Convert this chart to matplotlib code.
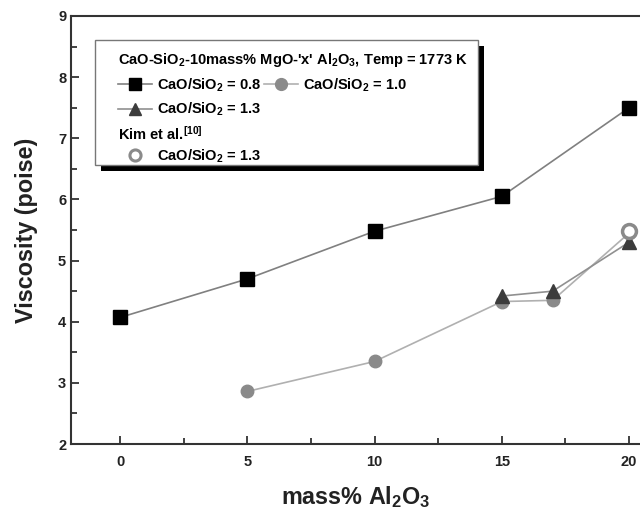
import matplotlib
matplotlib.use("Agg")
import matplotlib.pyplot as plt
from matplotlib.patches import Rectangle
from matplotlib.ticker import MultipleLocator

plt.rcParams["font.family"] = ["Liberation Sans", "DejaVu Sans"]
plt.rcParams["font.weight"] = "bold"
plt.rcParams["mathtext.fontset"] = "custom"
plt.rcParams["mathtext.rm"] = "Liberation Sans:bold"
plt.rcParams["mathtext.it"] = "Liberation Sans:bold:italic"
plt.rcParams["mathtext.bf"] = "Liberation Sans:bold"
plt.rcParams["mathtext.default"] = "rm"

# data
al2o3_08 = [0, 5, 10, 15, 20]
visc_08 = [4.07, 4.70, 5.48, 6.05, 7.50]

al2o3_10 = [5, 10, 15, 17, 20]
visc_10 = [2.86, 3.35, 4.33, 4.35, 5.45]

al2o3_13 = [15, 17, 20]
visc_13 = [4.42, 4.50, 5.30]

kim_al2o3 = [20]
kim_visc = [5.48]

fig = plt.figure(figsize=(6.4, 5.16), dpi=100)
ax = fig.add_axes([0.111, 0.1395, 0.889, 0.8295])

spine_col = "#333333"
l08, = ax.plot(al2o3_08, visc_08, "-", color="#808080", lw=1.2,
               marker="s", ms=9.5, mfc="black", mec="black", zorder=3)
l10, = ax.plot(al2o3_10, visc_10, "-", color="#b0b0b0", lw=1.2,
               marker="o", ms=9, mfc="#8a8a8a", mec="#8a8a8a", zorder=3)
l13, = ax.plot(al2o3_13, visc_13, "-", color="#909090", lw=1.2,
               marker="^", ms=10, mfc="#3c3c3c", mec="#3c3c3c", zorder=4)
lkim, = ax.plot(kim_al2o3, kim_visc, linestyle="none",
                marker="o", ms=10, mfc="white", mec="#8a8a8a", mew=2.5, zorder=5)

ax.set_xlim(-1.925, 20.43)
ax.set_ylim(2, 9)
ax.xaxis.set_major_locator(MultipleLocator(5))
ax.xaxis.set_minor_locator(MultipleLocator(2.5))
ax.yaxis.set_major_locator(MultipleLocator(1))
ax.yaxis.set_minor_locator(MultipleLocator(0.5))
ax.tick_params(which="both", direction="in", colors=spine_col, labelcolor="#222222",
               labelsize=10.5, width=1.3)
ax.tick_params(which="major", length=6)
ax.tick_params(which="minor", length=4)
ax.tick_params(axis="x", pad=8)
for s in ["left", "bottom", "top"]:
    ax.spines[s].set_linewidth(1.5)
    ax.spines[s].set_color(spine_col)
ax.spines["right"].set_visible(False)

ax.set_xlabel("mass% Al$_2$O$_3$", fontsize=16.8, fontweight="bold",
              labelpad=11, color="#222222")
ax.set_ylabel("Viscosity (poise)", fontsize=16.8, fontweight="bold",
              labelpad=14, color="#222222")

# legend box with drop shadow
x0, y0, w, h = 0.042, 0.652, 0.673, 0.292
ax.add_patch(Rectangle((x0 + 0.011, y0 - 0.014), w, h, transform=ax.transAxes,
                       facecolor="black", edgecolor="none", zorder=6))
ax.add_patch(Rectangle((x0, y0), w, h, transform=ax.transAxes,
                       facecolor="white", edgecolor="#777777", lw=1.0, zorder=7))

fs = 10.5
leg1 = ax.legend([l08, l13, l10],
                 ["CaO/SiO$_2$ = 0.8", "CaO/SiO$_2$ = 1.3", "CaO/SiO$_2$ = 1.0"],
                 title="CaO-SiO$_2$-10mass% MgO-'x' Al$_2$O$_3$, Temp = 1773 K",
                 ncol=2, loc="upper left", bbox_to_anchor=(0.083, 0.918),
                 frameon=False, fontsize=fs, title_fontsize=fs,
                 handlelength=2.3, handletextpad=0.35, columnspacing=0.2,
                 labelspacing=0.5, borderpad=0, borderaxespad=0,
                 alignment="left")
leg1.set_zorder(8)
for hl in leg1.legend_handles:
    hl.set_markersize(8.5)
ax.add_artist(leg1)

leg2 = ax.legend([lkim], ["CaO/SiO$_2$ = 1.3"], title="Kim et al.$^{[10]}$",
                 loc="upper left", bbox_to_anchor=(0.083, 0.745),
                 frameon=False, fontsize=fs, title_fontsize=fs,
                 handlelength=2.3, handletextpad=0.35, borderpad=0, borderaxespad=0,
                 labelspacing=0.3, handleheight=0.9, alignment="left")
leg2.set_zorder(8)
for hl in leg2.legend_handles:
    hl.set_markersize(8)
    hl.set_markeredgewidth(2.2)

fig.savefig("out.png", dpi=100)
